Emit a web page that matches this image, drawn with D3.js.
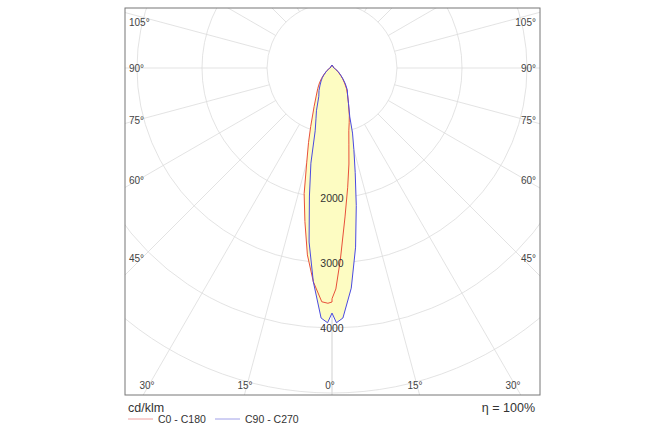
<!DOCTYPE html>
<html><head><meta charset="utf-8">
<script src="https://cdn.jsdelivr.net/npm/d3@7"></script>
<style>body{margin:0;background:#fff}text{font-family:"Liberation Sans",Arial,sans-serif}</style>
</head><body><svg id="c" width="666" height="444"></svg>
<script>
// gamma angles (deg from nadir) and intensities in cd/klm
var angles = [0, 1, 2.5, 5, 7.5, 10, 12.5, 15, 17.5, 20, 25, 30, 35, 40, 45, 50, 60, 70, 80, 90];
var c0   = [3600, 3620, 3600, 3300, 2900, 2400, 1980, 1500, 1200, 960, 650, 480, 380, 300, 230, 170, 100, 60, 40, 30];
var c180 = [3550, 3400, 2950, 2300, 1850, 1500, 1200, 1000, 880, 780, 600, 480, 390, 300, 230, 170, 100, 60, 40, 30];
var c90  = [3770, 3920, 3850, 3300, 2700, 2000, 1500, 1000, 820, 700, 480, 400, 320, 260, 210, 160, 100, 60, 40, 30];
var c270 = [3770, 3920, 3850, 3400, 2780, 2150, 1650, 1300, 1050, 800, 600, 480, 410, 320, 240, 180, 110, 60, 40, 30];
var rings = [1000, 2000, 3000, 4000, 5000, 6000, 7000];
var ringLabels = [2000, 3000, 4000];
var spokes = [0, 15, 30, 45, 60, 75, 90, 105, 120, 135, 150, 165, 180];
var sideLabels = [45, 60, 75, 90, 105];
var bottomLabels = [0, 15, 30];

var svg = d3.select("#c");
var box = {x0: 125, y0: 8, x1: 540, y1: 395};
var cx = 332, cy = 68;
var r = d3.scaleLinear().domain([0, 1000]).range([0, 65]);

function pt(a, v, side) {
	var t = a * Math.PI / 180;
	return [cx + side * Math.sin(t) * r(v), cy + Math.cos(t) * r(v)];
}

svg.append("clipPath").attr("id", "clip").append("rect")
	.attr("x", box.x0).attr("y", box.y0).attr("width", box.x1 - box.x0).attr("height", box.y1 - box.y0);

var grid = svg.append("g").attr("clip-path", "url(#clip)");

grid.selectAll("circle").data(rings).enter().append("circle")
	.attr("cx", cx).attr("cy", cy).attr("r", function (d) { return r(d); })
	.attr("fill", "none").attr("stroke", "#dcdcdc").attr("stroke-width", 0.8);

[1, -1].forEach(function (side) {
	grid.selectAll(null).data(spokes).enter().append("line")
		.attr("x1", function (d) { return pt(d, 1000, side)[0]; })
		.attr("y1", function (d) { return pt(d, 1000, side)[1]; })
		.attr("x2", function (d) { return pt(d, 9000, side)[0]; })
		.attr("y2", function (d) { return pt(d, 9000, side)[1]; })
		.attr("stroke", "#dcdcdc").attr("stroke-width", 0.8);
});

function curve(left, right) {
	var p = [];
	for (var i = angles.length - 1; i >= 0; i--) p.push(pt(angles[i], left[i], -1));
	p.unshift([cx, cy - 3]);
	for (var j = 0; j < angles.length; j++) p.push(pt(angles[j], right[j], 1));
	return p;
}
var red = curve(c0, c180), blue = curve(c90, c270);
var line = d3.line();

svg.append("path").attr("d", line(red) + "Z").attr("fill", "#fdfcc2");
svg.append("path").attr("d", line(blue) + "Z").attr("fill", "#fdfcc2");
svg.append("path").attr("d", line(red) + "Z").attr("fill", "none").attr("stroke", "#e8503a").attr("stroke-width", 1);
svg.append("path").attr("d", line(blue) + "Z").attr("fill", "none").attr("stroke", "#4a4ae0").attr("stroke-width", 1);

svg.selectAll(".rl").data(ringLabels).enter().append("text")
	.attr("x", cx).attr("y", function (d) { return cy + r(d); })
	.attr("dy", "0.35em").attr("text-anchor", "middle")
	.attr("font-size", 10.5).attr("fill", "#333").text(function (d) { return d; });

// angle labels along frame
var inset = 12;
sideLabels.forEach(function (a) {
	var t = a * Math.PI / 180;
	var dx = cx - box.x0 - inset;
	var y = cy + dx / Math.tan(t);
	y = Math.max(y, box.y0 + 14);
	if (a === 45) y -= 5;
	svg.append("text").attr("x", box.x0 + 4).attr("y", y).attr("dy", "0.35em")
		.attr("font-size", 10).attr("fill", "#444").text(a + "°");
	svg.append("text").attr("x", box.x1 - 4).attr("y", y).attr("dy", "0.35em").attr("text-anchor", "end")
		.attr("font-size", 10).attr("fill", "#444").text(a + "°");
});
bottomLabels.forEach(function (a) {
	var t = a * Math.PI / 180;
	var dy = box.y1 - 10 - cy;
	[1, -1].forEach(function (side) {
		if (a === 0 && side < 0) return;
		svg.append("text").attr("x", cx + side * dy * Math.tan(t) - 2).attr("y", box.y1 - 10).attr("dy", "0.35em")
			.attr("text-anchor", "middle").attr("font-size", 10).attr("fill", "#444").text(a + "°");
	});
});

svg.append("rect").attr("x", box.x0).attr("y", box.y0).attr("width", box.x1 - box.x0).attr("height", box.y1 - box.y0)
	.attr("fill", "none").attr("stroke", "#777").attr("stroke-width", 1);

svg.append("text").attr("x", 128).attr("y", 412).attr("font-size", 12.5).attr("fill", "#333").text("cd/klm");
svg.append("text").attr("x", 535).attr("y", 412).attr("text-anchor", "end").attr("font-size", 12.5).attr("fill", "#333").text("η = 100%");

var legend = [{name: "C0 - C180", color: "#f0a0a0", x: 128}, {name: "C90 - C270", color: "#a0a0e8", x: 215}];
legend.forEach(function (l) {
	svg.append("line").attr("x1", l.x).attr("x2", l.x + 25).attr("y1", 419).attr("y2", 419)
		.attr("stroke", l.color).attr("stroke-width", 1);
	svg.append("text").attr("x", l.x + 30).attr("y", 423).attr("font-size", 10.5).attr("fill", "#333").text(l.name);
});
</script></body></html>
